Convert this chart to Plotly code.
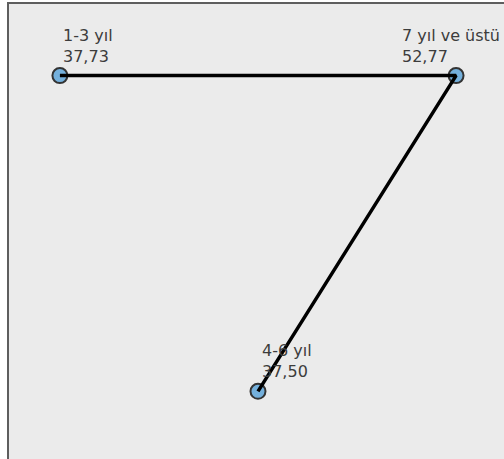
import plotly.graph_objects as go

# groups, in the order the line joins them
gruplar = ["1-3 yıl", "7 yıl ve üstü", "4-6 yıl"]
degerler = ["37,73", "52,77", "37,50"]
boyut1 = [-1.0, 1.0, 0.0]
boyut2 = [0.8, 0.8, -0.8]

# label offsets in px (the right one is pulled to the left)
etiket_kaydir = [1, -56, 2]

yazi = dict(family="DejaVu Sans, sans-serif", size=16, color="#3c3c3c")

fig = go.Figure()

fig.add_trace(go.Scatter(
    x=boyut1, y=boyut2, mode="markers",
    marker=dict(size=15, color="#74b0dc", line=dict(color="#333333", width=2)),
    hoverinfo="skip", showlegend=False,
))
fig.add_trace(go.Scatter(
    x=boyut1, y=boyut2, mode="lines",
    line=dict(color="#000000", width=3.5),
    hoverinfo="skip", showlegend=False,
))

for g, d, x, y, dx in zip(gruplar, degerler, boyut1, boyut2, etiket_kaydir):
    fig.add_annotation(x=x, y=y, text=f"{g}<br>{d}", showarrow=False,
                       xanchor="left", yanchor="bottom", align="left",
                       xshift=dx, yshift=8, font=yazi)

fig.update_xaxes(range=[-1.257, 1.242], showgrid=False, zeroline=False,
                 showticklabels=False, ticks="", side="top",
                 showline=True, linecolor="#5e5e5e", linewidth=2)
fig.update_yaxes(range=[-1.143, 1.163], showgrid=False, zeroline=False,
                 showticklabels=False, ticks="",
                 showline=True, linecolor="#5e5e5e", linewidth=2)

fig.update_layout(
    width=504, height=459,
    margin=dict(l=9, r=0, t=4, b=0),
    paper_bgcolor="#ffffff",
    plot_bgcolor="#ebebeb",
)

fig.write_html("out.html", config={"displayModeBar": False},
               post_script="document.body.style.margin='0';")
